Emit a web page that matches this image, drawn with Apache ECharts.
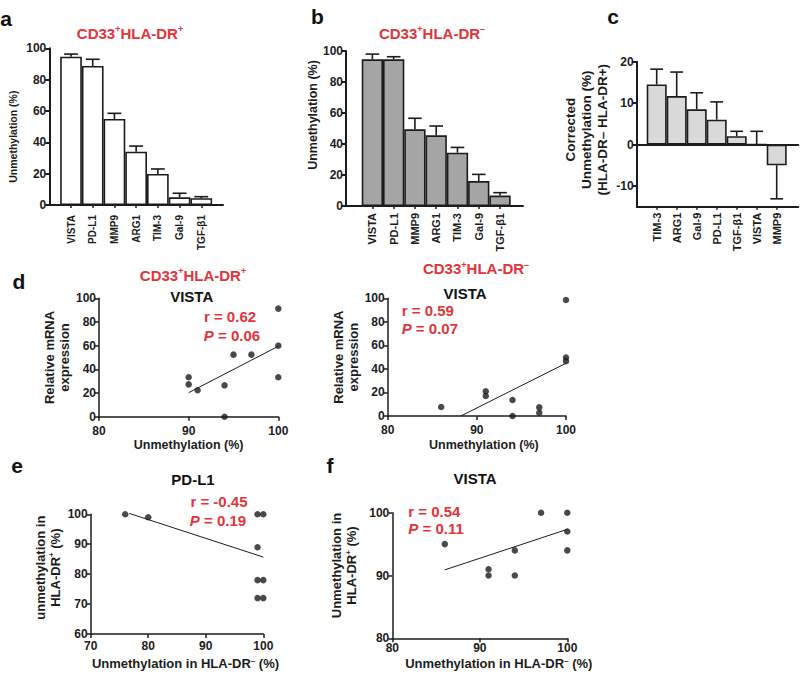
<!DOCTYPE html>
<html>
<head>
<meta charset="utf-8">
<script src="https://cdn.jsdelivr.net/npm/echarts@6/dist/echarts.min.js"></script>
<style>html,body{margin:0;padding:0;background:#fff}#chart{width:800px;height:674px}</style>
</head>
<body>
<div id="chart"></div>
<script>
// ---------- data ----------
const catsA = ['VISTA', 'PD-L1', 'MMP9', 'ARG1', 'TIM-3', 'Gal-9', 'TGF-β1'];
const meanA = [94.6, 88.7, 54.9, 34.0, 19.8, 4.9, 4.3];
const semA  = [1.7, 4.3, 3.6, 3.6, 3.2, 2.6, 1.0];

const catsB = ['VISTA', 'PD-L1', 'MMP9', 'ARG1', 'TIM-3', 'Gal-9', 'TGF-β1'];
const meanB = [94.6, 94.6, 49.5, 45.6, 34.4, 16.1, 6.7];
const semB  = [3.4, 1.7, 7.1, 6.0, 3.4, 4.3, 1.9];

const catsC = ['TIM-3', 'ARG1', 'Gal-9', 'PD-L1', 'TGF-β1', 'VISTA', 'MMP9'];
const meanC = [14.5, 11.7, 8.5, 6.0, 2.0, 0, -5.0];
const semC  = [3.7, 5.8, 4.0, 4.3, 1.2, 3.2, 8.1];

const ticksA = [0, 20, 40, 60, 80, 100];
const ticksC = [-10, 0, 10, 20];

const pointsD1 = [[90, 33.3], [90, 27.3], [91, 22.3], [94, 26.5], [94, 0], [95, 52.4], [97, 52.4], [100, 91.3], [100, 60], [100, 33.3]];
const fitD1 = [[90, 20.3], [100, 59.5]];
const pointsD2 = [[86, 7.6], [91, 21], [91, 17], [94, 13.6], [94, 0], [97, 7.3], [97, 2.8], [100, 98.6], [100, 49.7], [100, 46.6]];
const fitD2 = [[88.2, 0], [100, 44.8]];
const pointsE = [[76, 100], [80, 99], [99, 100], [100, 100], [99, 89], [99, 78], [100, 78], [99, 72], [100, 72]];
const fitE = [[76.7, 100.3], [100, 85.7]];
const pointsF = [[86, 95], [91, 91], [91, 90], [94, 94], [94, 90], [97, 100], [100, 100], [100, 97], [100, 94]];
const fitF = [[86, 90.9], [100, 97.35]];

const statsD1 = ['0.62', '0.06'];
const statsD2 = ['0.59', '0.07'];
const statsE = ['-0.45', '0.19'];
const statsF = ['0.54', '0.11'];

// ---------- style ----------
const FF = '"Liberation Sans", Arial, Helvetica, sans-serif';
const INK = '#1c1c1c';
const RED = '#e3343b';
const idx7 = [0, 1, 2, 3, 4, 5, 6];

function grid(l, t, w, h) {
  return { left: l, top: t, width: w, height: h, containLabel: false, outerBoundsMode: 'none' };
}
function barX(gi, cats, min, max, fs, margin) {
  return {
    gridIndex: gi, type: 'value', min: min, max: max,
    axisLine: { show: true, onZero: false, lineStyle: { color: INK, width: 2 } },
    axisTick: { show: true, customValues: idx7, length: 3, lineStyle: { color: INK, width: 1.5 } },
    axisLabel: { customValues: idx7, formatter: v => cats[Math.round(v)] || '', rotate: 90,
      fontSize: fs, fontWeight: 'bold', color: INK, fontFamily: FF, margin: margin },
    splitLine: { show: false }
  };
}
function yAx(gi, min, max, interval, name, gap, nameStyle, lw) {
  const ax = {
    gridIndex: gi, type: 'value', min: min, max: max,
    axisLine: { show: true, onZero: false, lineStyle: { color: INK, width: lw } },
    axisTick: { show: true, length: 4, lineStyle: { color: INK, width: lw } },
    axisLabel: { fontSize: 12, fontWeight: 'bold', color: INK, fontFamily: FF, margin: 3 },
    splitLine: { show: false },
    name: name, nameLocation: 'middle', nameGap: gap,
    nameTextStyle: Object.assign({ fontWeight: 'bold', color: INK, fontFamily: FF }, nameStyle)
  };
  if (Array.isArray(interval)) {
    ax.axisTick.customValues = interval;
    ax.axisLabel.customValues = interval;
  } else {
    ax.interval = interval;
  }
  return ax;
}
function scX(gi, min, max, name, gap, nameStyle, margin) {
  return {
    gridIndex: gi, type: 'value', min: min, max: max, interval: 10,
    axisLine: { show: true, onZero: false, lineStyle: { color: INK, width: 1.5 } },
    axisTick: { show: true, length: 4, lineStyle: { color: INK, width: 1.5 } },
    axisLabel: { fontSize: 12, fontWeight: 'bold', color: INK, fontFamily: FF, margin: margin },
    splitLine: { show: false },
    name: name, nameLocation: 'middle', nameGap: gap,
    nameTextStyle: Object.assign({ fontWeight: 'bold', color: INK, fontFamily: FF }, nameStyle)
  };
}
function errRender(params, api) {
  const x = api.value(0), m = api.value(1), e = api.value(2);
  const dir = m < 0 ? -1 : 1;
  const p0 = api.coord([x, m]);
  const p1 = api.coord([x, m + dir * e]);
  const hw = api.size([0.32, 0])[0];
  const st = { stroke: INK, lineWidth: 1.6 };
  return { type: 'group', children: [
    { type: 'line', shape: { x1: p0[0], y1: p0[1], x2: p1[0], y2: p1[1] }, style: st },
    { type: 'line', shape: { x1: p1[0] - hw, y1: p1[1], x2: p1[0] + hw, y2: p1[1] }, style: st }
  ] };
}
function barSeries(gi, means, fill, w) {
  return { type: 'bar', xAxisIndex: gi, yAxisIndex: gi, barWidth: w,
    data: means.map((v, i) => [i, v]),
    itemStyle: { color: fill, borderColor: INK, borderWidth: 1.6 }, silent: true, animation: false };
}
function errSeries(gi, means, sems) {
  return { type: 'custom', xAxisIndex: gi, yAxisIndex: gi, renderItem: errRender, clip: false,
    encode: { x: 0, y: 1 }, data: means.map((v, i) => [i, v, sems[i]]), z: 3, animation: false, silent: true };
}
function scatterSeries(gi, pts) {
  return { type: 'scatter', xAxisIndex: gi, yAxisIndex: gi, data: pts, symbolSize: 6.5, clip: false,
    itemStyle: { color: INK }, animation: false, silent: true };
}
function fitSeries(gi, pts) {
  return { type: 'line', xAxisIndex: gi, yAxisIndex: gi, data: pts, showSymbol: false, clip: false,
    lineStyle: { color: INK, width: 1 }, animation: false, silent: true };
}

// rich-text helpers for superscripts
function richSup(size, color) {
  return {
    t: { fontSize: size, fontWeight: 'bold', color: color, fontFamily: FF, lineHeight: size + 2 },
    s: { fontSize: Math.round(size * 0.62), fontWeight: 'bold', color: color, fontFamily: FF, verticalAlign: 'top' },
    i: { fontSize: size, fontWeight: 'bold', fontStyle: 'italic', color: color, fontFamily: FF, lineHeight: size + 2 }
  };
}
function txt(x, y, text, size, color, align, rich) {
  const style = { text: text, fontSize: size, fontWeight: 'bold', fill: color, fontFamily: FF,
    align: align || 'center', verticalAlign: 'middle' };
  if (rich) style.rich = rich;
  return { type: 'text', x: x, y: y, style: style, silent: true };
}
const supPos = '{t|CD33}{s|+}{t|HLA-DR}{s|+}';
const supNeg = '{t|CD33}{s|+}{t|HLA-DR}{s|–}';
function rText(v) { return '{t|r = ' + v + '}'; }
function pText(v) { return '{i|P}{t| = ' + v + '}'; }

const nameE = '{t|unmethylation in}\n{t|HLA-DR}{s|+}{t| (%)}';
const nameF = '{t|Unmethylation in}\n{t|HLA-DR}{s|+}{t| (%)}';
const nameX = '{t|Unmethylation in HLA-DR}{s|–}{t| (%)}';

const option = {
  backgroundColor: '#fff',
  animation: false,
  textStyle: { fontFamily: FF },
  grid: [
    grid(49.3, 48.3, 173.7, 156.7),   // a
    grid(346, 51, 177, 155),          // b
    grid(636.7, 61.7, 161.6, 145),    // c
    grid(99, 298.3, 179.3, 118.4),    // d1
    grid(387.7, 298.3, 178.3, 117.7), // d2
    grid(90.7, 514.3, 172.6, 119.7),  // e
    grid(392.3, 512.7, 175, 125.6)    // f
  ],
  xAxis: [
    barX(0, catsA, -1, 7, 10, 10),
    barX(1, catsB, -1.24, 7.08, 11, 7),
    Object.assign(barX(2, catsC, -1, 7.08, 11, 6)),
    scX(3, 80, 100, 'Unmethylation (%)', 22, { fontSize: 12.5 }, 8),
    Object.assign(scX(4, 80, 100, 'Unmethylation (%)', 22, { fontSize: 12.5, padding: [0, 0, 0, 14] }, 8)),
    scX(5, 70, 100, nameX, 22, { rich: richSup(13, INK), padding: [0, 0, 0, 17] }, 6),
    scX(6, 80, 100, nameX, 18, { rich: richSup(13, INK), padding: [0, 0, 0, 38] }, 4),
    { gridIndex: 2, type: 'value', min: -1, max: 7.08, position: 'bottom',
      axisLine: { show: true, onZero: true, lineStyle: { color: INK, width: 2 } },
      axisTick: { show: false }, axisLabel: { show: false }, splitLine: { show: false } }
  ],
  yAxis: [
    yAx(0, 0, 100, 20, 'Unmethylation (%)', 31, { fontSize: 10.5, padding: [0, 20, 0, 0] }, 2),
    yAx(1, 0, 100, 20, 'Unmethylation (%)', 26, { fontSize: 12.5, padding: [0, 0, 0, 27] }, 2),
    yAx(2, -15, 20, ticksC, 'Corrected\nUnmethylation (%)\n(HLA-DR– HLA-DR+)', 26,
        { fontSize: 13.5, lineHeight: 16, padding: [0, 0, 0, 9] }, 2),
    yAx(3, 0, 100, 20, 'Relative mRNA\nexpression', 27, { fontSize: 13, lineHeight: 15 }, 1.5),
    yAx(4, 0, 100, 20, 'Relative mRNA\nexpression', 24, { fontSize: 13, lineHeight: 15 }, 1.5),
    yAx(5, 60, 100, 10, nameE, 26, { rich: richSup(13, INK), lineHeight: 16, padding: [0, 0, 0, 13] }, 1.5),
    yAx(6, 80, 100, 10, nameF, 33, { rich: richSup(13, INK), lineHeight: 15, padding: [0, 0, 0, 20] }, 1.5)
  ],
  series: [
    barSeries(0, meanA, '#ffffff', 21.7), errSeries(0, meanA, semA),
    barSeries(1, meanB, '#a5a5a5', 21.3), errSeries(1, meanB, semB),
    barSeries(2, meanC, '#d9d9d9', 20), errSeries(2, meanC, semC),
    scatterSeries(3, pointsD1), fitSeries(3, fitD1),
    scatterSeries(4, pointsD2), fitSeries(4, fitD2),
    scatterSeries(5, pointsE), fitSeries(5, fitE),
    scatterSeries(6, pointsF), fitSeries(6, fitF)
  ],
  graphic: [
    txt(6, 18, 'a', 21, '#111'),
    txt(317.5, 16, 'b', 21, '#111'),
    txt(613, 16, 'c', 21, '#111'),
    txt(19, 281, 'd', 21, '#111'),
    txt(17, 465, 'e', 21, '#111'),
    txt(330, 465, 'f', 21, '#111'),
    txt(130, 33, supPos, 15, RED, 'center', richSup(15, RED)),
    txt(432, 33, supNeg, 15, RED, 'center', richSup(15, RED)),
    txt(193, 275, supPos, 15, RED, 'center', richSup(15, RED)),
    txt(476, 268.5, supNeg, 15, RED, 'center', richSup(15, RED)),
    txt(191.7, 296.7, 'VISTA', 15, '#111'),
    txt(465, 293.3, 'VISTA', 15, '#111'),
    txt(193, 479.3, 'PD-L1', 15, '#111'),
    txt(475, 478.3, 'VISTA', 15, '#111'),
    txt(230, 316.7, rText(statsD1[0]), 15, RED, 'center', richSup(15, RED)),
    txt(232, 335, pText(statsD1[1]), 15, RED, 'center', richSup(15, RED)),
    txt(401.7, 310.7, rText(statsD2[0]), 15, RED, 'left', richSup(15, RED)),
    txt(401.7, 328.3, pText(statsD2[1]), 15, RED, 'left', richSup(15, RED)),
    txt(219, 501, rText(statsE[0]), 15, RED, 'center', richSup(15, RED)),
    txt(218, 520, pText(statsE[1]), 15, RED, 'center', richSup(15, RED)),
    txt(408.3, 511, rText(statsF[0]), 15, RED, 'left', richSup(15, RED)),
    txt(408.3, 528.3, pText(statsF[1]), 15, RED, 'left', richSup(15, RED))
  ]
};

const chart = echarts.init(document.getElementById('chart'), null, { renderer: 'svg', width: 800, height: 674 });
chart.setOption(option);
</script>
</body>
</html>
